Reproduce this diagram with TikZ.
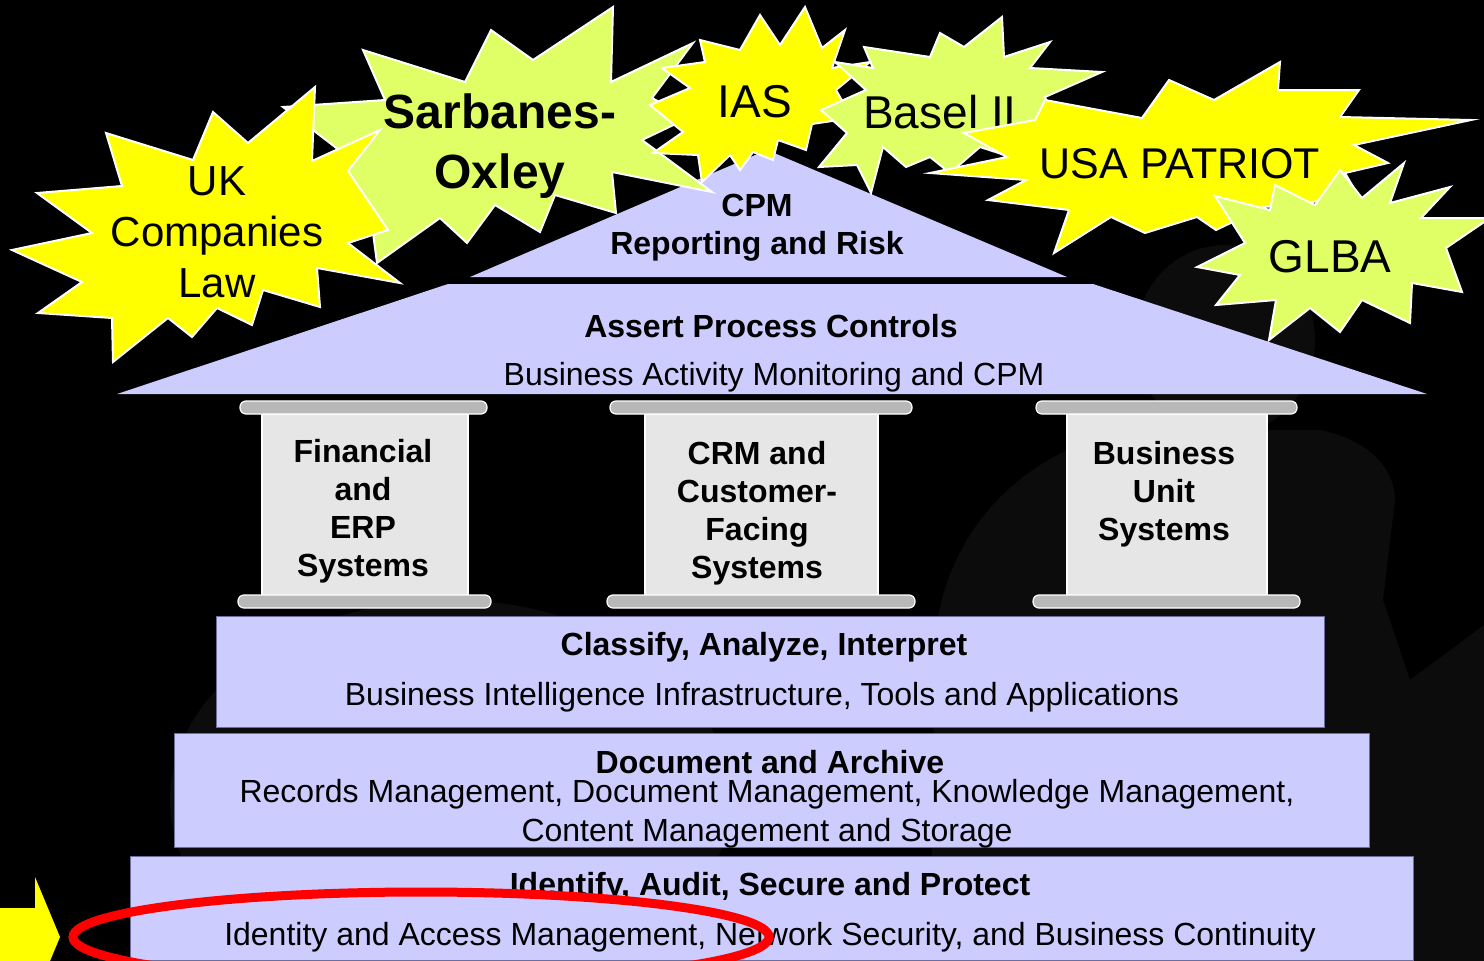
\documentclass[tikz,border=0pt]{standalone}
\usepackage{fontspec}
\setmainfont{Liberation Sans}
\usepackage{xcolor}
\usepackage{tikz}
\definecolor{lavender}{HTML}{CCCCFF}
\definecolor{layeredge}{HTML}{6E6E9E}
\definecolor{lawyellow}{HTML}{FFFF00}
\definecolor{lawgreen}{HTML}{E0FF66}
\definecolor{pillargray}{HTML}{E6E6E6}
\definecolor{slabgray}{HTML}{B8B8B8}
\definecolor{shadowgray}{HTML}{0C0C0C}

\begin{document}
\begin{tikzpicture}[x=1pt,y=-1pt,
  layer/.style={fill=lavender, draw=layeredge, line width=1pt},
  pillar/.style={fill=pillargray, draw=white, line width=1.2pt},
  slab/.style={fill=slabgray, draw=white, line width=1.2pt, rounded corners=6pt},
  burst/.style={draw=white, line width=2pt, line join=miter},
  headtxt/.style={font=\bfseries\fontsize{32}{38}\selectfont, align=center, inner sep=0pt},
  bodytxt/.style={font=\fontsize{32}{39}\selectfont, align=center, inner sep=0pt},
  lawtxt/.style={font=\fontsize{46}{51}\selectfont, align=center, inner sep=0pt}]

% Background
\fill[black] (0,0) rectangle (1484,961);
\useasboundingbox (0,0) rectangle (1484,961);

% Faint figures behind
\fill[shadowgray] (1225,340) ellipse [x radius=90, y radius=95];
\fill[shadowgray] (930,961) -- (935,640) .. controls (945,520) and (1040,440) .. (1140,430)
  -- (1320,430) .. controls (1370,440) and (1395,470) .. (1395,500) -- (1383,600) -- (1410,680)
  -- (1484,625) -- (1484,961) -- cycle;
\fill[shadowgray] (450,800) ellipse [x radius=280, y radius=200];

% Roof
\fill[lavender] (470,277) -- (767,150) -- (1067,277) -- cycle;
\fill[lavender] (117,394) -- (448,284) -- (1093,284) -- (1427,394) -- cycle;
\node[headtxt] (cpm) at (757,228) {CPM\\Reporting and Risk};
\node[headtxt] (assert) at (771,326) {Assert Process Controls};
\node[bodytxt] (bam) at (774,377) {Business Activity Monitoring and CPM};

% Pillars
\draw[pillar] (262,414) rectangle (468,596);
\draw[slab] (240,401) rectangle (487,414);
\draw[slab] (238,595) rectangle (491,608);
\node[headtxt] (erp) at (363,511) {Financial\\and\\ERP\\Systems};

\draw[pillar] (645,414) rectangle (878,596);
\draw[slab] (610,401) rectangle (912,414);
\draw[slab] (607,595) rectangle (915,608);
\node[headtxt] (crm) at (757,513) {CRM and\\Customer-\\Facing\\Systems};

\draw[pillar] (1067,414) rectangle (1267,596);
\draw[slab] (1036,401) rectangle (1297,414);
\draw[slab] (1033,595) rectangle (1300,608);
\node[headtxt] (bus) at (1164,494) {Business\\Unit\\Systems};

% Layers
\draw[layer] (216,616) rectangle (1324,727);
\node[headtxt] (classify) at (764,647) {Classify, Analyze, Interpret};
\node[bodytxt] (bi) at (762,697) {Business Intelligence Infrastructure, Tools and Applications};

\draw[layer] (174,733) rectangle (1369,847);
\node[headtxt] (archive) at (770,762) {Document and Archive};
\node[bodytxt] (records) at (767,814) {Records Management, Document Management, Knowledge Management,\\Content Management and Storage};

\draw[layer] (130,856) rectangle (1413,960);
\node[headtxt] (protect) at (770,887) {Identify, Audit, Secure and Protect};
\node[bodytxt] (iam) at (770,937) {Identity and Access Management, Network Security, and Business Continuity};

% Regulations
\draw[burst, fill=lawgreen] (363,50) -- (465,82) -- (491,30) -- (533,60) -- (613,7) -- (611,82)
  -- (693,43) -- (652,98) -- (688,118) -- (642,140) -- (712,192) -- (612,172) -- (616,213)
  -- (555,195) -- (540,232) -- (495,205) -- (467,243) -- (440,218) -- (377,263) -- (372,225)
  -- (340,200) -- (352,160) -- (283,107) -- (385,100) -- cycle;
\node[font=\bfseries\fontsize{48}{60}\selectfont, align=center, inner sep=0pt] (sox) at (500,146) {Sarbanes-\\Oxley};

\draw[burst, fill=lawyellow] (12,250) -- (92,233) -- (37,193) -- (122,186) -- (106,133) -- (193,160)
  -- (213,112) -- (248,143) -- (315,87) -- (312,161) -- (380,130) -- (348,171) -- (388,230)
  -- (348,243) -- (400,283) -- (317,268) -- (320,307) -- (263,290) -- (252,325) -- (217,308)
  -- (192,337) -- (168,318) -- (113,362) -- (112,318) -- (38,313) -- (82,282) -- cycle;
\node[font=\fontsize{42}{51}\selectfont, align=center, inner sep=0pt] (uk) at (217,232) {UK\\Companies\\Law};

\draw[burst, fill=lawyellow] (805,7) -- (822,48) -- (845,30) -- (832,68) -- (870,62) -- (836,90)
  -- (852,118) -- (812,124) -- (806,150) -- (778,140) -- (773,160) -- (753,152) -- (740,170)
  -- (730,155) -- (702,182) -- (698,155) -- (653,153) -- (683,132) -- (650,105) -- (690,88)
  -- (662,68) -- (705,62) -- (700,40) -- (740,50) -- (760,15) -- (780,45) -- cycle;
\node[lawtxt] (ias) at (755,102) {IAS};

\draw[burst, fill=lawgreen] (864,47) -- (930,57) -- (940,33) -- (964,47) -- (1002,17) -- (1004,57)
  -- (1050,42) -- (1030,68) -- (1102,72) -- (1045,97) -- (1059,130) -- (1026,123) -- (1014,158)
  -- (980,147) -- (950,173) -- (930,157) -- (906,167) -- (883,147) -- (871,193) -- (857,165)
  -- (819,167) -- (847,133) -- (821,110) -- (866,90) -- (835,62) -- (873,68) -- cycle;
\node[lawtxt] (basel) at (940,112) {Basel II};

\draw[burst, fill=lawyellow] (1045,100) -- (1142,118) -- (1169,80) -- (1214,100) -- (1280,62)
  -- (1278,90) -- (1359,90) -- (1340,117) -- (1471,120) -- (1354,145) -- (1388,163) -- (1345,173)
  -- (1359,197) -- (1264,207) -- (1216,230) -- (1197,217) -- (1145,233) -- (1111,217) -- (1054,253)
  -- (1069,210) -- (988,200) -- (1026,180) -- (930,173) -- (1007,157) -- (964,133) -- (1035,120) -- cycle;
\node[font=\fontsize{43}{51}\selectfont, inner sep=0pt] (patriot) at (1180,164) {USA PATRIOT};

\draw[burst, fill=lawgreen] (1404,163) -- (1390,203) -- (1450,187) -- (1421,218) -- (1490,218)
  -- (1446,248) -- (1462,292) -- (1412,283) -- (1410,323) -- (1362,300) -- (1340,332) -- (1310,308)
  -- (1269,340) -- (1276,300) -- (1216,305) -- (1240,275) -- (1197,267) -- (1245,243) -- (1215,196)
  -- (1270,210) -- (1275,185) -- (1315,205) -- (1340,170) -- (1362,198) -- cycle;
\node[lawtxt] (glba) at (1330,257) {GLBA};

% Highlight
\fill[lawyellow] (0,908) -- (35,908) -- (35,877) -- (60,937) -- (35,997) -- (35,966) -- (0,966) -- cycle;
\draw[red, line width=9pt] (421,937) ellipse [x radius=348, y radius=45];

\end{tikzpicture}
\end{document}
